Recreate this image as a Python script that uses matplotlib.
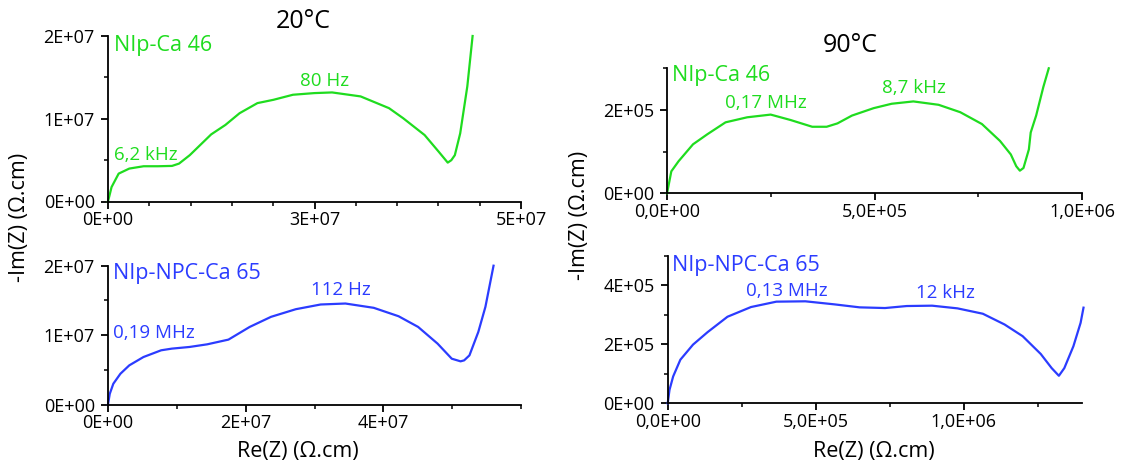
import matplotlib
matplotlib.use("Agg")
import matplotlib.pyplot as plt
from matplotlib.ticker import MultipleLocator

plt.rcParams['font.family'] = ['Open Sans', 'DejaVu Sans']

GREEN = '#1fdc1f'
BLUE = '#2b3cff'

# --- data ---
ca46_20_re = [0, 4.3e5, 1.29e6, 2.58e6, 4.31e6, 6.03e6, 7.75e6, 8.6e6, 9.9e6, 1.249e7, 1.421e7,
              1.593e7, 1.809e7, 2.003e7, 2.239e7, 2.498e7, 2.713e7, 3.058e7, 3.402e7, 3.574e7,
              3.833e7, 4.005e7, 4.113e7, 4.156e7, 4.199e7, 4.264e7, 4.35e7, 4.414e7]
ca46_20_im = [0, 1.74e6, 3.37e6, 3.98e6, 4.26e6, 4.26e6, 4.3e6, 4.58e6, 5.6e6, 8.11e6, 9.25e6,
              1.067e7, 1.189e7, 1.229e7, 1.29e7, 1.31e7, 1.318e7, 1.27e7, 1.128e7, 1.006e7,
              8.03e6, 6.0e6, 4.7e6, 4.99e6, 5.6e6, 8.24e6, 1.391e7, 2.0e7]

ca46_90_re = [0, 1.7e3, 1.04e4, 2.79e4, 6.27e4, 9.75e4, 1.41e5, 1.932e5, 2.498e5, 2.977e5, 3.499e5,
              3.847e5, 4.108e5, 4.456e5, 4.978e5, 5.413e5, 5.936e5, 6.545e5, 7.067e5, 7.589e5,
              8.024e5, 8.285e5, 8.416e5, 8.503e5, 8.59e5, 8.72e5, 8.764e5, 8.895e5, 9.069e5, 9.199e5]
ca46_90_im = [0, 8.1e3, 5.27e4, 7.7e4, 1.176e5, 1.419e5, 1.703e5, 1.824e5, 1.889e5, 1.759e5, 1.597e5,
              1.597e5, 1.678e5, 1.865e5, 2.043e5, 2.149e5, 2.205e5, 2.124e5, 1.946e5, 1.662e5,
              1.257e5, 9.32e4, 6.49e4, 5.43e4, 6.08e4, 1.054e5, 1.459e5, 1.865e5, 2.554e5, 3.0e5]

npc65_20_re = [0, 2.57e5, 7.72e5, 1.8e6, 3.09e6, 5.15e6, 7.72e6, 9.27e6, 1.184e7, 1.441e7, 1.75e7,
               2.059e7, 2.368e7, 2.728e7, 3.089e7, 3.449e7, 3.861e7, 4.221e7, 4.505e7, 4.788e7,
               4.994e7, 5.122e7, 5.174e7, 5.251e7, 5.38e7, 5.483e7, 5.601e7]
npc65_20_im = [0, 1.54e6, 2.99e6, 4.43e6, 5.64e6, 6.84e6, 7.81e6, 8.05e6, 8.29e6, 8.67e6, 9.35e6,
               1.118e7, 1.263e7, 1.373e7, 1.441e7, 1.455e7, 1.393e7, 1.272e7, 1.118e7, 8.77e6,
               6.6e6, 6.22e6, 6.36e6, 7.08e6, 1.046e7, 1.407e7, 2.0e7]

npc65_90_re = [0, 6.1e3, 1.84e4, 4.28e4, 8.57e4, 1.346e5, 2.02e5, 2.815e5, 3.672e5, 4.651e5, 5.63e5,
               6.487e5, 7.344e5, 8.078e5, 8.935e5, 9.792e5, 1.0649e6, 1.1383e6, 1.1995e6, 1.2607e6,
               1.2974e6, 1.3219e6, 1.3403e6, 1.3709e6, 1.3953e6, 1.4051e6]
npc65_90_im = [0, 4.55e4, 9.09e4, 1.477e5, 1.989e5, 2.409e5, 2.932e5, 3.261e5, 3.443e5, 3.455e5, 3.352e5,
               3.25e5, 3.227e5, 3.295e5, 3.307e5, 3.216e5, 3.034e5, 2.67e5, 2.273e5, 1.67e5,
               1.193e5, 9.32e4, 1.193e5, 1.932e5, 2.727e5, 3.24e5]

# tick values / labels
tl_xticks = [0, 2.5e7, 5e7]
tl_xlabels = ['0E+00', '3E+07', '5E+07']
tl_yticks = [0, 1e7, 2e7]
tl_ylabels = ['0E+00', '1E+07', '2E+07']
tr_xticks = [0, 5e5, 1e6]
tr_xlabels = ['0,0E+00', '5,0E+05', '1,0E+06']
tr_yticks = [0, 2e5]
tr_ylabels = ['0E+00', '2E+05']
bl_xticks = [0, 2e7, 4e7]
bl_xlabels = ['0E+00', '2E+07', '4E+07']
bl_yticks = [0, 1e7, 2e7]
bl_ylabels = ['0E+00', '1E+07', '2E+07']
br_xticks = [0, 5e5, 1e6]
br_xlabels = ['0,0E+00', '5,0E+05', '1,0E+06']
br_yticks = [0, 2e5, 4e5]
br_ylabels = ['0E+00', '2E+05', '4E+05']

W, H = 1125, 468
fig = plt.figure(figsize=(W / 100, H / 100), dpi=100)


def make_ax(x0, y0, x1, y1):
    return fig.add_axes([x0 / W, 1 - y1 / H, (x1 - x0) / W, (y1 - y0) / H])


def ftext(x, y, s, **kw):
    return fig.text(x / W, 1 - y / H, s, **kw)


TICKFS = 13


def style(ax, xlim, ylim, xt, xl, yt, yl, xminor, yminor):
    ax.set_xlim(*xlim)
    ax.set_ylim(*ylim)
    for s in ('top', 'right'):
        ax.spines[s].set_visible(False)
    for s in ('left', 'bottom'):
        ax.spines[s].set_linewidth(1.3)
    ax.set_xticks(xt)
    ax.set_xticklabels(xl)
    ax.set_yticks(yt)
    ax.set_yticklabels(yl)
    ax.xaxis.set_minor_locator(MultipleLocator(xminor))
    ax.yaxis.set_minor_locator(MultipleLocator(yminor))
    ax.tick_params(which='major', direction='out', length=5, width=1.3, labelsize=TICKFS)
    ax.tick_params(axis='x', which='major', pad=2)
    ax.tick_params(axis='y', which='major', pad=4.5)
    ax.tick_params(which='minor', direction='out', length=3, width=1.1)
    ax.patch.set_alpha(0)


LW = 1.6
LABFS = 15.5
ANFS = 13.5

# top-left
ax1 = make_ax(108, 36, 521, 201.5)
ax1.plot(ca46_20_re, ca46_20_im, color=GREEN, lw=LW, clip_on=False)
style(ax1, (0, 5e7), (0, 2e7), tl_xticks, tl_xlabels, tl_yticks, tl_ylabels, 5e6, 5e6)

# top-right
ax2 = make_ax(667, 68.3, 1082, 193.3)
ax2.plot(ca46_90_re, ca46_90_im, color=GREEN, lw=LW, clip_on=False)
style(ax2, (0, 1e6), (0, 3e5), tr_xticks, tr_xlabels, tr_yticks, tr_ylabels, 2.5e5, 1e5)

# bottom-left
ax3 = make_ax(108, 265.7, 521, 404.5)
ax3.plot(npc65_20_re, npc65_20_im, color=BLUE, lw=LW, clip_on=False)
style(ax3, (0, 6e7), (0, 2e7), bl_xticks, bl_xlabels, bl_yticks, bl_ylabels, 1e7, 5e6)

# bottom-right
ax4 = make_ax(667.7, 255.7, 1082, 403.3)
ax4.plot(npc65_90_re, npc65_90_im, color=BLUE, lw=LW, clip_on=False)
style(ax4, (0, 1.4e6), (0, 5e5), br_xticks, br_xlabels, br_yticks, br_ylabels, 2.5e5, 1e5)

# sample labels and frequency annotations
ftext(114, 46, 'NIp-Ca 46', color=GREEN, fontsize=LABFS, ha='left', va='center')
ftext(114, 155, '6,2 kHz', color=GREEN, fontsize=ANFS, ha='left', va='center')
ftext(325, 81, '80 Hz', color=GREEN, fontsize=ANFS, ha='center', va='center')

ftext(672, 76, 'NIp-Ca 46', color=GREEN, fontsize=LABFS, ha='left', va='center')
ftext(766, 103, '0,17 MHz', color=GREEN, fontsize=ANFS, ha='center', va='center')
ftext(914, 88, '8,7 kHz', color=GREEN, fontsize=ANFS, ha='center', va='center')

ftext(113, 274, 'NIp-NPC-Ca 65', color=BLUE, fontsize=LABFS, ha='left', va='center')
ftext(113, 333, '0,19 MHz', color=BLUE, fontsize=ANFS, ha='left', va='center')
ftext(341, 290, '112 Hz', color=BLUE, fontsize=ANFS, ha='center', va='center')

ftext(672, 265, 'NIp-NPC-Ca 65', color=BLUE, fontsize=LABFS, ha='left', va='center')
ftext(787, 291, '0,13 MHz', color=BLUE, fontsize=ANFS, ha='center', va='center')
ftext(945, 293, '12 kHz', color=BLUE, fontsize=ANFS, ha='center', va='center')

# titles and axis labels
ftext(303, 21, '20°C', fontsize=18, ha='center', va='center')
ftext(850, 46, '90°C', fontsize=18, ha='center', va='center')
ftext(20, 217, '-Im(Z) (Ω.cm)', fontsize=LABFS, rotation=90, ha='center', va='center')
ftext(580, 215, '-Im(Z) (Ω.cm)', fontsize=LABFS, rotation=90, ha='center', va='center')
ftext(298, 451, 'Re(Z) (Ω.cm)', fontsize=LABFS, ha='center', va='center')
ftext(874, 451, 'Re(Z) (Ω.cm)', fontsize=LABFS, ha='center', va='center')

fig.savefig('out.png', dpi=100)
